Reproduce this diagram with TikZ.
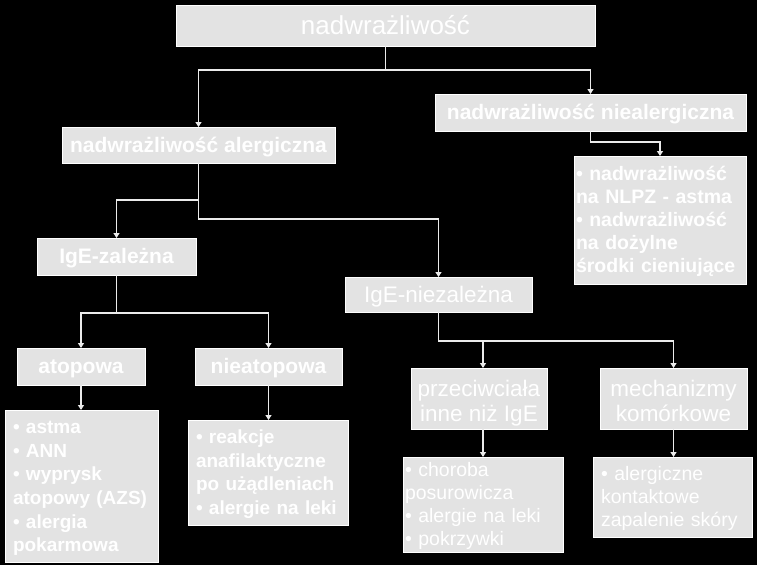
\documentclass[tikz,border=0pt]{standalone}
\usepackage{fontspec}
\setmainfont{Liberation Sans}
\usetikzlibrary{arrows.meta}
\definecolor{boxgray}{RGB}{227,227,227}
\definecolor{linegray}{RGB}{235,235,235}
\newcommand\myLT{\rule{0pt}{18.2pt}}
\newcommand\myLB{\rule[-5pt]{0pt}{5pt}}
\newcommand\myHT{\rule{0pt}{25.7pt}}
\tikzset{
  gbox/.style={draw=white, line width=1pt, fill=boxgray, text=white, inner sep=0pt, outer sep=0pt, align=center},
  listbox/.style={gbox, align=left, inner xsep=8pt, anchor=center},
  tightlist/.style={gbox, align=left, inner xsep=1.5pt, anchor=center},
  conn/.style={draw=linegray, line width=1.2pt, -{Triangle[width=6pt,length=5pt]}},
  f26/.style={font=\fontsize{26}{30}\selectfont, text height=23.5pt, text depth=5.5pt},
  fb21/.style={font=\bfseries\fontsize{21}{25}\selectfont, text height=19pt, text depth=4.45pt},
  fr22one/.style={font=\fontsize{22.5}{25.7}\selectfont, text height=20.4pt, text depth=4.8pt},
  fr22/.style={font=\fontsize{22.5}{25.7}\selectfont},
  lb/.style={font=\bfseries\fontsize{19}{23.6}\selectfont},
  lbn/.style={font=\bfseries\fontsize{19.5}{23}\selectfont},
  lr/.style={font=\fontsize{19.5}{23}\selectfont},
}
\begin{document}
\begin{tikzpicture}[x=1pt,y=-1pt]
\fill[black] (0,0) rectangle (757,565);
\useasboundingbox (0,0) rectangle (757,565);

\node[gbox,f26,minimum width=419pt,minimum height=41pt] (top) at (385.5,25.5) {nadwrażliwość};
\node[gbox,fb21,minimum width=273pt,minimum height=36pt] (alerg) at (198.5,145) {nadwrażliwość alergiczna};
\node[gbox,fb21,minimum width=311pt,minimum height=37pt] (nieal) at (590.5,112.5) {nadwrażliwość niealergiczna};
\node[tightlist,lbn,minimum width=172pt,minimum height=128pt,text width=168pt] (nlpz) at (660,220)
  {\myLT• nadwrażliwość\\na NLPZ - astma\\• nadwrażliwość\\na dożylne\\środki cieniujące\myLB};
\node[gbox,fb21,minimum width=159pt,minimum height=37pt] (zal) at (116.5,256.5) {IgE-zależna};
\node[gbox,fr22one,minimum width=187pt,minimum height=35pt] (niez) at (438.5,294.5) {IgE-niezależna};
\node[gbox,fb21,minimum width=128pt,minimum height=37pt] (atop) at (81,366.5) {atopowa};
\node[gbox,fb21,minimum width=147pt,minimum height=37pt] (nieat) at (268.5,366.5) {nieatopowa};
\node[listbox,lb,minimum width=153pt,minimum height=152pt,text width=137pt] (atoplist) at (81.5,486)
  {\myLT• astma\\• ANN\\• wyprysk\\atopowy (AZS)\\• alergia\\pokarmowa\myLB};
\node[listbox,lb,minimum width=160pt,minimum height=105pt,text width=144pt] (nieatlist) at (268,472.5)
  {\myLT• reakcje\\anafilaktyczne\\po użądleniach\\• alergie na leki\myLB};
\node[gbox,fr22,minimum width=136pt,minimum height=61pt] (przec) at (479,398.5) {\myHT przeciwciała\\inne niż IgE\myLB};
\node[gbox,fr22,minimum width=147pt,minimum height=61pt] (mech) at (673.5,398.5) {\myHT mechanizmy\\komórkowe\myLB};
\node[tightlist,lr,minimum width=160pt,minimum height=95pt,text width=156pt] (przlist) at (483,504.5)
  {\myLT• choroba\\posurowicza\\• alergie na leki\\• pokrzywki\myLB};
\node[listbox,lr,minimum width=159pt,minimum height=80pt,text width=143pt] (mechlist) at (672.5,497)
  {\myLT• alergiczne\\kontaktowe\\zapalenie skóry\myLB};

\draw[conn] (top.south) -- ++(0,24) -| (alerg.north);
\draw[conn] (top.south) -- ++(0,24) -| (nieal.north);
\draw[conn] (nieal.south) -- ++(0,11) -| (nlpz.north);
\draw[conn] (alerg.south) -- ++(0,37) -| (zal.north);
\draw[conn] (alerg.south) -- ++(0,56) -| (niez.north);
\draw[conn] (zal.south) -- ++(0,38) -| (atop.north);
\draw[conn] (zal.south) -- ++(0,38) -| (nieat.north);
\draw[conn] (atop.south) -- (atop.south |- atoplist.north);
\draw[conn] (nieat.south) -- (nieat.south |- nieatlist.north);
\draw[conn] (niez.south) -- ++(0,29) -| (przlist.north |- przec.north);
\draw[conn] (niez.south) -- ++(0,29) -| (mech.north);
\draw[conn] (przlist.north |- przec.south) -- (przlist.north);
\draw[conn] (mech.south) -- (mech.south |- mechlist.north);
\end{tikzpicture}
\end{document}
